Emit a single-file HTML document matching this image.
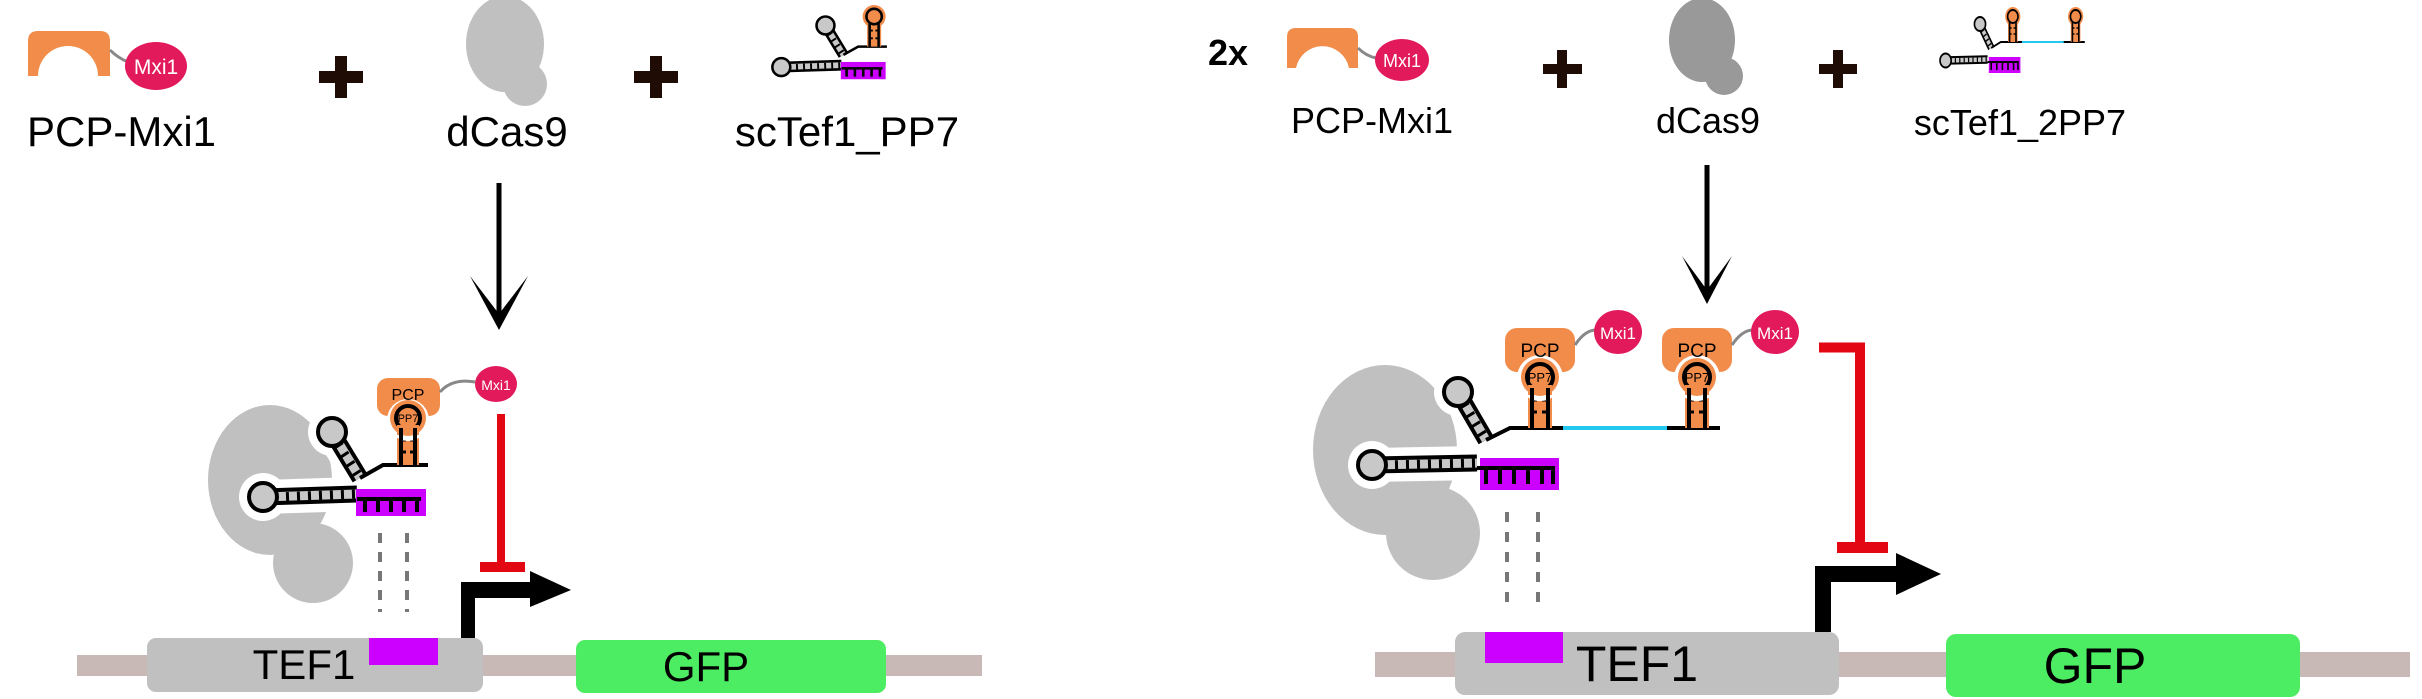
<!DOCTYPE html>
<html><head><meta charset="utf-8"><style>
html,body{margin:0;padding:0;background:#fff;}
svg{display:block;font-family:"Liberation Sans",sans-serif;}
</style></head><body>
<svg width="2422" height="699" viewBox="0 0 2422 699" xmlns="http://www.w3.org/2000/svg">
<defs>
  <!-- left sgRNA (PP7 single) -->
  <g id="sgL">
    <path d="M263,497 L357,494 M332,432 L360,478" stroke="#fff" stroke-width="34" fill="none" stroke-linecap="round"/>
    <circle cx="263" cy="497" r="24" fill="#fff"/><circle cx="332" cy="432" r="24" fill="#fff"/>
    <path d="M263,497 L357,494 M332,432 L360,478" stroke="#000" stroke-width="17" fill="none"/>
    <path d="M263,497 L357,494 M332,432 L360,478" stroke="#c8c8c8" stroke-width="9" fill="none"/>
    <path d="M275,497 L357,494 M338,444 L360,478" stroke="#000" stroke-width="9" fill="none" stroke-dasharray="3 8"/>
    <circle cx="263" cy="497" r="14" fill="#c8c8c8" stroke="#000" stroke-width="4"/>
    <circle cx="332" cy="432" r="14" fill="#c8c8c8" stroke="#000" stroke-width="4"/>
    <rect x="356" y="489" width="70" height="27" fill="#cc00ff"/>
    <path d="M357,499 L421,499 M365,499 V512 M378,499 V512 M391,499 V512 M404,499 V512 M417,499 V512" stroke="#000" stroke-width="4" fill="none"/>
    <path d="M360,478 L383,465 L428,465" stroke="#000" stroke-width="4" fill="none"/>
    <circle cx="408" cy="418" r="18" fill="#f28c4b"/>
    <rect x="397" y="418" width="22" height="47" fill="#f28c4b"/>
    <path d="M401,428 V465 M415,428 V465" stroke="#000" stroke-width="4"/>
    <path d="M401,440 H415 M401,452 H415" stroke="#000" stroke-width="3" stroke-dasharray="5 4"/>
    <circle cx="408" cy="418" r="12" fill="#f28c4b" stroke="#000" stroke-width="4"/>
  </g>
  <!-- right sgRNA (2x PP7) -->
  <g id="sgR">
    <path d="M1372,465 L1477,463 M1458,392 L1486,440" stroke="#fff" stroke-width="34" fill="none" stroke-linecap="round"/>
    <circle cx="1372" cy="465" r="24" fill="#fff"/><circle cx="1458" cy="392" r="24" fill="#fff"/>
    <path d="M1372,465 L1477,463 M1458,392 L1486,440" stroke="#000" stroke-width="17" fill="none"/>
    <path d="M1372,465 L1477,463 M1458,392 L1486,440" stroke="#c8c8c8" stroke-width="9" fill="none"/>
    <path d="M1384,465 L1477,463 M1464,404 L1486,440" stroke="#000" stroke-width="9" fill="none" stroke-dasharray="3 8"/>
    <circle cx="1372" cy="465" r="14" fill="#c8c8c8" stroke="#000" stroke-width="4"/>
    <circle cx="1458" cy="392" r="14" fill="#c8c8c8" stroke="#000" stroke-width="4"/>
    <rect x="1480" y="458" width="79" height="32" fill="#cc00ff"/>
    <path d="M1477,468 L1555,468 M1486,468 V484 M1500,468 V484 M1514,468 V484 M1528,468 V484 M1542,468 V484 M1553,468 V484" stroke="#000" stroke-width="4" fill="none"/>
    <path d="M1486,440 L1510,428 L1563,428 M1667,428 L1720,428" stroke="#000" stroke-width="4" fill="none"/>
    <path d="M1563,428 L1667,428" stroke="#22c8f0" stroke-width="4"/>
    <circle cx="1540" cy="377" r="19" fill="#f28c4b"/><rect x="1528" y="377" width="24" height="51" fill="#f28c4b"/>
    <circle cx="1697" cy="377" r="19" fill="#f28c4b"/><rect x="1685" y="377" width="24" height="51" fill="#f28c4b"/>
    <path d="M1532,388 V428 M1548,388 V428 M1689,388 V428 M1705,388 V428" stroke="#000" stroke-width="4"/>
    <path d="M1532,400 H1548 M1532,412 H1548 M1689,400 H1705 M1689,412 H1705" stroke="#000" stroke-width="3" stroke-dasharray="5 5"/>
    <circle cx="1540" cy="377" r="13" fill="#f28c4b" stroke="#000" stroke-width="4"/>
    <circle cx="1697" cy="377" r="13" fill="#f28c4b" stroke="#000" stroke-width="4"/>
  </g>
</defs>

<!-- ===== LEFT PANEL TOP ===== -->
<path d="M38,31 H100 Q110,31 110,41 V76 H98 A30,30 0 0 0 38,76 H28 V41 Q28,31 38,31 Z" fill="#f28c4b"/>
<path d="M110,50 Q118,58 128,62" stroke="#888" stroke-width="3" fill="none"/>
<ellipse cx="156" cy="66" rx="31" ry="24" fill="#e2195b"/>
<text x="156" y="74" font-size="21" fill="#fff" text-anchor="middle">Mxi1</text>
<text x="27" y="146" font-size="42" fill="#000">PCP-Mxi1</text>
<rect x="319" y="71" width="44" height="12" fill="#1f0d05"/><rect x="335" y="56" width="12" height="42" fill="#1f0d05"/>
<ellipse cx="505" cy="44" rx="39" ry="48" fill="#c0c0c0"/><circle cx="525" cy="84" r="22" fill="#c0c0c0"/>
<text x="507" y="146" font-size="42" fill="#000" text-anchor="middle">dCas9</text>
<rect x="634" y="71" width="44" height="12" fill="#1f0d05"/><rect x="650" y="56" width="12" height="42" fill="#1f0d05"/>
<use href="#sgL" transform="translate(613,-251) scale(0.64)"/>
<text x="847" y="146" font-size="42" fill="#000" text-anchor="middle">scTef1_PP7</text>
<line x1="499" y1="183" x2="499" y2="318" stroke="#000" stroke-width="5"/>
<polygon points="470,276 499,330 528,276 499,314" fill="#000"/>

<!-- ===== LEFT PANEL BOTTOM ===== -->
<rect x="77" y="655" width="905" height="21" fill="#c8b8b6"/>
<rect x="147" y="638" width="336" height="54" rx="9" fill="#c0c0c0"/>
<rect x="369" y="638" width="69" height="27" fill="#cc00ff"/>
<text x="304" y="679" font-size="42" fill="#000" text-anchor="middle">TEF1</text>
<rect x="576" y="640" width="310" height="53" rx="9" fill="#4ded63"/>
<text x="706" y="681" font-size="42" fill="#000" text-anchor="middle">GFP</text>
<path d="M461,638 V582 H532 V598 H475 V638 Z" fill="#000"/>
<polygon points="530,571 571,590 530,607" fill="#000"/>
<ellipse cx="270" cy="480" rx="62" ry="75" fill="#c0c0c0"/><circle cx="313" cy="563" r="40" fill="#c0c0c0"/>
<path d="M380,533 V612 M407,533 V612" stroke="#777" stroke-width="4" stroke-dasharray="10 9"/>
<use href="#sgL"/>
<rect x="377" y="378" width="63" height="38" rx="11" fill="#f28c4b"/>
<circle cx="408" cy="420" r="21" fill="#fff"/>
<circle cx="408" cy="418" r="18" fill="#f28c4b"/>
<circle cx="408" cy="418" r="12" fill="#f28c4b" stroke="#000" stroke-width="4"/>
<rect x="397" y="425" width="22" height="10" fill="#f28c4b"/>
<path d="M401,428 V440 M415,428 V440" stroke="#000" stroke-width="4"/>
<text x="408" y="400" font-size="16" fill="#000" text-anchor="middle">PCP</text>
<text x="408" y="422" font-size="11" fill="#000" text-anchor="middle">PP7</text>
<path d="M440,392 Q452,378 475,382" stroke="#888" stroke-width="3" fill="none"/>
<ellipse cx="496" cy="384" rx="21" ry="18" fill="#e2195b"/>
<text x="496" y="390" font-size="14" fill="#fff" text-anchor="middle">Mxi1</text>
<rect x="497" y="414" width="8" height="150" fill="#e30613"/>
<rect x="480" y="562" width="45" height="10" fill="#e30613"/>

<!-- ===== RIGHT PANEL TOP ===== -->
<text x="1208" y="65" font-size="36" font-weight="bold" fill="#000">2x</text>
<path d="M1296,28 H1349 Q1358,28 1358,37 V68 H1349 A27,27 0 0 0 1296,68 H1287 V37 Q1287,28 1296,28 Z" fill="#f28c4b"/>
<path d="M1358,48 Q1366,56 1376,58" stroke="#888" stroke-width="3" fill="none"/>
<ellipse cx="1402" cy="60" rx="27" ry="21" fill="#e2195b"/>
<text x="1402" y="67" font-size="18" fill="#fff" text-anchor="middle">Mxi1</text>
<text x="1372" y="133" font-size="36" fill="#000" text-anchor="middle">PCP-Mxi1</text>
<rect x="1543" y="64" width="39" height="10" fill="#1f0d05"/><rect x="1557" y="50" width="10" height="38" fill="#1f0d05"/>
<ellipse cx="1702" cy="40" rx="33" ry="42" fill="#999"/><circle cx="1724" cy="76" r="19" fill="#999"/>
<text x="1708" y="133" font-size="36" fill="#000" text-anchor="middle">dCas9</text>
<rect x="1819" y="64" width="38" height="10" fill="#1f0d05"/><rect x="1833" y="50" width="10" height="38" fill="#1f0d05"/>
<use href="#sgR" transform="translate(1940,7) scale(0.4,0.5) translate(-1358,-358)"/>
<text x="2020" y="135" font-size="36" fill="#000" text-anchor="middle">scTef1_2PP7</text>
<line x1="1707" y1="165" x2="1707" y2="292" stroke="#000" stroke-width="5"/>
<polygon points="1682,256 1707,304 1732,256 1707,290" fill="#000"/>

<!-- ===== RIGHT PANEL BOTTOM ===== -->
<rect x="1375" y="652" width="1035" height="25" fill="#c8b8b6"/>
<rect x="1455" y="632" width="384" height="63" rx="10" fill="#c0c0c0"/>
<rect x="1485" y="632" width="78" height="31" fill="#cc00ff"/>
<text x="1637" y="681" font-size="50" fill="#000" text-anchor="middle">TEF1</text>
<rect x="1946" y="634" width="354" height="63" rx="10" fill="#4ded63"/>
<text x="2095" y="683" font-size="50" fill="#000" text-anchor="middle">GFP</text>
<path d="M1815,632 V566 H1898 V582 H1831 V632 Z" fill="#000"/>
<polygon points="1896,553 1941,574 1896,595" fill="#000"/>
<ellipse cx="1385" cy="450" rx="72" ry="85" fill="#c0c0c0"/><circle cx="1433" cy="533" r="47" fill="#c0c0c0"/>
<path d="M1507,512 V605 M1538,512 V605" stroke="#777" stroke-width="4" stroke-dasharray="10 10"/>
<use href="#sgR"/>
<g>
  <rect x="1505" y="328" width="70" height="44" rx="12" fill="#f28c4b"/>
  <circle cx="1540" cy="378" r="23" fill="#fff"/><circle cx="1540" cy="377" r="19" fill="#f28c4b"/>
  <circle cx="1540" cy="377" r="13" fill="#f28c4b" stroke="#000" stroke-width="4"/>
  <rect x="1528" y="385" width="24" height="10" fill="#f28c4b"/>
  <path d="M1532,388 V400 M1548,388 V400" stroke="#000" stroke-width="4"/>
  <text x="1540" y="357" font-size="19" fill="#000" text-anchor="middle">PCP</text>
  <text x="1540" y="382" font-size="13" fill="#000" text-anchor="middle">PP7</text>
  <path d="M1575,345 Q1585,330 1596,330" stroke="#888" stroke-width="3" fill="none"/>
  <ellipse cx="1618" cy="332" rx="24" ry="22" fill="#e2195b"/>
  <text x="1618" y="339" font-size="17" fill="#fff" text-anchor="middle">Mxi1</text>
</g>
<g transform="translate(157,0)">
  <rect x="1505" y="328" width="70" height="44" rx="12" fill="#f28c4b"/>
  <circle cx="1540" cy="378" r="23" fill="#fff"/><circle cx="1540" cy="377" r="19" fill="#f28c4b"/>
  <circle cx="1540" cy="377" r="13" fill="#f28c4b" stroke="#000" stroke-width="4"/>
  <rect x="1528" y="385" width="24" height="10" fill="#f28c4b"/>
  <path d="M1532,388 V400 M1548,388 V400" stroke="#000" stroke-width="4"/>
  <text x="1540" y="357" font-size="19" fill="#000" text-anchor="middle">PCP</text>
  <text x="1540" y="382" font-size="13" fill="#000" text-anchor="middle">PP7</text>
  <path d="M1575,345 Q1585,330 1596,330" stroke="#888" stroke-width="3" fill="none"/>
  <ellipse cx="1618" cy="332" rx="24" ry="22" fill="#e2195b"/>
  <text x="1618" y="339" font-size="17" fill="#fff" text-anchor="middle">Mxi1</text>
</g>
<path d="M1819,347.5 H1860 V545" stroke="#e30613" stroke-width="10" fill="none"/>
<rect x="1837" y="542" width="51" height="11" fill="#e30613"/>
</svg>
</body></html>
